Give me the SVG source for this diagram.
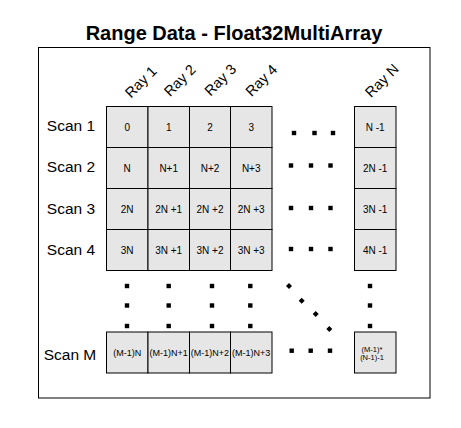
<svg xmlns="http://www.w3.org/2000/svg" width="461" height="428" viewBox="0 0 461 428">
<style>
.bg{fill:#ffffff}
.frame{fill:none;stroke:#000;stroke-width:1}
.cell rect{fill:#e6e6e6;stroke:#000;stroke-width:1}
.cell text{font-family:"Liberation Sans",Arial,sans-serif;font-size:10px;fill:#000;text-anchor:middle}
.cell.m text{font-size:9px}
.cell.mn text{font-size:7.5px}
.title{font-family:"Liberation Sans",Arial,sans-serif;font-size:20px;font-weight:bold;fill:#000;text-anchor:middle}
.scan{font-family:"Liberation Sans",Arial,sans-serif;font-size:15.5px;fill:#000;text-anchor:middle}
.ray{font-family:"Liberation Sans",Arial,sans-serif;font-size:14.5px;fill:#000;text-anchor:middle}
.dot{fill:#000}
</style>
<defs>
<rect id="sq" x="-2.2" y="-2.2" width="4.4" height="4.4"/>
<polygon id="dm" points="0,-3 3,0 0,3 -3,0"/>
</defs>
<rect class="bg" x="0" y="0" width="461" height="428"/>
<text class="title" x="234" y="39.5">Range Data - Float32MultiArray</text>
<rect id="frame" class="frame" x="38.5" y="47.5" width="391.5" height="350.5"/>

<g id="ray-labels">
<text class="ray" transform="translate(141.5,82.5) rotate(-45)" y="4">Ray 1</text>
<text class="ray" transform="translate(180.5,81) rotate(-45)" y="4">Ray 2</text>
<text class="ray" transform="translate(221,80.5) rotate(-45)" y="4">Ray 3</text>
<text class="ray" transform="translate(262,81) rotate(-45)" y="4">Ray 4</text>
<text class="ray" transform="translate(382.5,81.3) rotate(-45)" y="4">Ray N</text>
</g>

<g id="scan-labels">
<text class="scan" x="71" y="130.5">Scan 1</text>
<text class="scan" x="71" y="172">Scan 2</text>
<text class="scan" x="71" y="213.5">Scan 3</text>
<text class="scan" x="71" y="255">Scan 4</text>
<text class="scan" x="70" y="360">Scan M</text>
</g>

<g id="cell-1-1" class="cell"><rect x="106.5" y="106.5" width="41.5" height="41"/><text x="127.2" y="130.5">0</text></g>
<g id="cell-1-2" class="cell"><rect x="148" y="106.5" width="41.5" height="41"/><text x="168.7" y="130.5">1</text></g>
<g id="cell-1-3" class="cell"><rect x="189.5" y="106.5" width="41" height="41"/><text x="210" y="130.5">2</text></g>
<g id="cell-1-4" class="cell"><rect x="230.5" y="106.5" width="41.5" height="41"/><text x="251.2" y="130.5">3</text></g>
<g id="cell-1-n" class="cell"><rect x="354.5" y="106.5" width="41.5" height="41"/><text x="375.2" y="130.5">N -1</text></g>

<g id="cell-2-1" class="cell"><rect x="106.5" y="147.5" width="41.5" height="41"/><text x="127.2" y="171.5">N</text></g>
<g id="cell-2-2" class="cell"><rect x="148" y="147.5" width="41.5" height="41"/><text x="168.7" y="171.5">N+1</text></g>
<g id="cell-2-3" class="cell"><rect x="189.5" y="147.5" width="41" height="41"/><text x="210" y="171.5">N+2</text></g>
<g id="cell-2-4" class="cell"><rect x="230.5" y="147.5" width="41.5" height="41"/><text x="251.2" y="171.5">N+3</text></g>
<g id="cell-2-n" class="cell"><rect x="354.5" y="147.5" width="41.5" height="41"/><text x="375.2" y="171.5">2N -1</text></g>

<g id="cell-3-1" class="cell"><rect x="106.5" y="188.5" width="41.5" height="41"/><text x="127.2" y="212.5">2N</text></g>
<g id="cell-3-2" class="cell"><rect x="148" y="188.5" width="41.5" height="41"/><text x="168.7" y="212.5">2N +1</text></g>
<g id="cell-3-3" class="cell"><rect x="189.5" y="188.5" width="41" height="41"/><text x="210" y="212.5">2N +2</text></g>
<g id="cell-3-4" class="cell"><rect x="230.5" y="188.5" width="41.5" height="41"/><text x="251.2" y="212.5">2N +3</text></g>
<g id="cell-3-n" class="cell"><rect x="354.5" y="188.5" width="41.5" height="41"/><text x="375.2" y="212.5">3N -1</text></g>

<g id="cell-4-1" class="cell"><rect x="106.5" y="229.5" width="41.5" height="41"/><text x="127.2" y="253.5">3N</text></g>
<g id="cell-4-2" class="cell"><rect x="148" y="229.5" width="41.5" height="41"/><text x="168.7" y="253.5">3N +1</text></g>
<g id="cell-4-3" class="cell"><rect x="189.5" y="229.5" width="41" height="41"/><text x="210" y="253.5">3N +2</text></g>
<g id="cell-4-4" class="cell"><rect x="230.5" y="229.5" width="41.5" height="41"/><text x="251.2" y="253.5">3N +3</text></g>
<g id="cell-4-n" class="cell"><rect x="354.5" y="229.5" width="41.5" height="41"/><text x="375.2" y="253.5">4N -1</text></g>

<g id="cell-m-1" class="cell m"><rect x="106.5" y="332" width="41.5" height="41"/><text x="127.2" y="356">(M-1)N</text></g>
<g id="cell-m-2" class="cell m"><rect x="148" y="332" width="41.5" height="41"/><text x="168.7" y="356">(M-1)N+1</text></g>
<g id="cell-m-3" class="cell m"><rect x="189.5" y="332" width="41" height="41"/><text x="210" y="356">(M-1)N+2</text></g>
<g id="cell-m-4" class="cell m"><rect x="230.5" y="332" width="41.5" height="41"/><text x="251.2" y="356">(M-1)N+3</text></g>
<g id="cell-m-n" class="cell mn"><rect x="354.5" y="332" width="41.5" height="41"/><text x="372" y="351.5">(M-1)*</text><text x="372" y="360">(N-1)-1</text></g>

<g id="connectors">
<g class="dot">
<use href="#sq" x="294" y="133"/><use href="#sq" x="314.5" y="133"/><use href="#sq" x="333" y="133"/>
<use href="#sq" x="291" y="165.5"/><use href="#sq" x="311" y="165.5"/><use href="#sq" x="330.5" y="165.5"/>
<use href="#sq" x="291" y="208"/><use href="#sq" x="311" y="208"/><use href="#sq" x="330.5" y="208"/>
<use href="#sq" x="291" y="249"/><use href="#sq" x="311" y="249"/><use href="#sq" x="330.5" y="249"/>
<use href="#sq" x="291.7" y="350.7"/><use href="#sq" x="310.7" y="350.7"/><use href="#sq" x="330" y="350.7"/>
<use href="#sq" x="127" y="286"/><use href="#sq" x="127" y="305.5"/><use href="#sq" x="127" y="326"/>
<use href="#sq" x="168.7" y="286"/><use href="#sq" x="168.7" y="305.5"/><use href="#sq" x="168.7" y="326"/>
<use href="#sq" x="212" y="286"/><use href="#sq" x="212" y="305.5"/><use href="#sq" x="212" y="326"/>
<use href="#sq" x="250.3" y="286"/><use href="#sq" x="250.3" y="305.5"/><use href="#sq" x="250.3" y="326"/>
<use href="#sq" x="370" y="286"/><use href="#sq" x="370" y="305.5"/><use href="#sq" x="370" y="326"/>
<use href="#dm" x="289" y="286"/><use href="#dm" x="301.7" y="300.7"/><use href="#dm" x="315.7" y="314"/><use href="#dm" x="329.3" y="329"/>
</g>
</g>
</svg>
